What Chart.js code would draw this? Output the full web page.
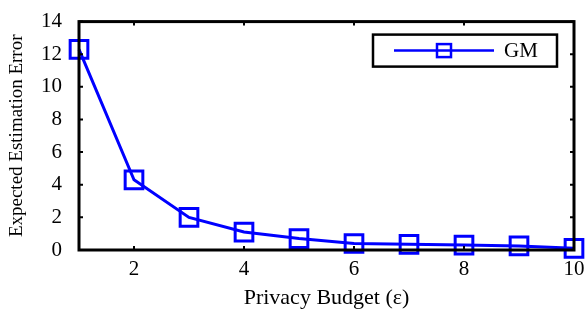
<!DOCTYPE html>
<html>
<head>
<meta charset="utf-8">
<script src="https://cdn.jsdelivr.net/npm/chart.js@4/dist/chart.umd.min.js"></script>
<style>
  html, body { margin:0; padding:0; background:#fff; }
  #wrap { width:587px; height:311px; position:relative; }
</style>
</head>
<body>
<div id="wrap"><canvas id="c"></canvas></div>
<script>
// data
const budgets = [1, 2, 3, 4, 5, 6, 7, 8, 9, 10];
const gmError = [12.3, 4.3, 2.0, 1.1, 0.7, 0.4, 0.35, 0.3, 0.25, 0.1];
const xTicks = [2, 4, 6, 8, 10];
const yTicks = [0, 2, 4, 6, 8, 10, 12, 14];
const seriesName = 'GM';

const serif = "'Liberation Serif', 'DejaVu Serif', serif";

// box around plot + inward ticks on all sides
const frame = {
  id: 'frame',
  afterDatasetsDraw(chart){
    const {ctx, chartArea:a, scales:{x, y}} = chart;
    ctx.save();
    ctx.strokeStyle = '#000';
    ctx.lineWidth = 3;
    ctx.strokeRect(a.left, a.top, a.right - a.left, a.bottom - a.top);
    ctx.lineWidth = 2;
    const t = 4;
    x.ticks.forEach(tk=>{
      const px = x.getPixelForValue(tk.value);
      ctx.beginPath();
      ctx.moveTo(px, a.bottom); ctx.lineTo(px, a.bottom - t);
      ctx.moveTo(px, a.top); ctx.lineTo(px, a.top + t);
      ctx.stroke();
    });
    y.ticks.forEach(tk=>{
      const py = y.getPixelForValue(tk.value);
      ctx.beginPath();
      ctx.moveTo(a.left, py); ctx.lineTo(a.left + t, py);
      ctx.moveTo(a.right, py); ctx.lineTo(a.right - t, py);
      ctx.stroke();
    });
    ctx.restore();
  }
};

// boxed legend in the top-right corner
const boxLegend = {
  id: 'boxLegend',
  afterDraw(chart){
    const {ctx, chartArea:a} = chart;
    const ds = chart.data.datasets[0];
    const w = 184, h = 32;
    const bx = a.right - 17 - w, by = a.top + 13;
    ctx.save();
    ctx.fillStyle = '#fff';
    ctx.fillRect(bx, by, w, h);
    ctx.strokeStyle = '#000';
    ctx.lineWidth = 2.5;
    ctx.strokeRect(bx, by, w, h);
    const ly = by + h/2;
    ctx.strokeStyle = ds.borderColor;
    ctx.lineWidth = 2.5;
    ctx.beginPath();
    ctx.moveTo(bx + 21, ly); ctx.lineTo(bx + 121, ly);
    ctx.stroke();
    ctx.strokeRect(bx + 64, ly - 6.5, 14, 13);
    ctx.fillStyle = '#000';
    ctx.font = "21px " + serif;
    ctx.textBaseline = 'middle';
    ctx.fillText(ds.label, bx + 131, ly + 1);
    ctx.restore();
  }
};

new Chart(document.getElementById('c'), {
  type: 'line',
  data: {
    labels: budgets,
    datasets: [{
      label: seriesName,
      data: budgets.map((b,i)=>({x:b, y:gmError[i]})),
      borderColor: '#0000ff',
      backgroundColor: 'transparent',
      borderWidth: 3,
      pointStyle: 'rect',
      pointRadius: 12.5,
      pointBorderWidth: 3,
      pointBorderColor: '#0000ff',
      pointBackgroundColor: 'transparent',
      tension: 0,
      clip: false
    }]
  },
  options: {
    responsive: true,
    maintainAspectRatio: false,
    animation: false,
    layout: { autoPadding: false, padding: { left: 2, right: 13, top: 6.5, bottom: 0 } },
    plugins: { legend: { display:false }, tooltip: { enabled:false } },
    scales: {
      x: {
        type: 'linear', min: 1, max: 10,
        afterBuildTicks: s => { s.ticks = xTicks.map(v=>({value:v})); },
        afterFit: s => { s.height = 61; },
        grid: { display:false },
        border: { display:false },
        ticks: { color:'#000', font:{ family:serif, size:21 }, padding:-1, maxRotation:0 },
        title: { display:true, text:'Privacy Budget (\u03b5)', color:'#000', font:{ family:serif, size:22 }, padding:{top:0, bottom:0} }
      },
      y: {
        min: 0, max: 14,
        afterBuildTicks: s => { s.ticks = yTicks.map(v=>({value:v})); },
        afterFit: s => { s.width = 77; },
        grid: { display:false },
        border: { display:false },
        ticks: { color:'#000', font:{ family:serif, size:21 }, padding:9 },
        title: { display:true, text:'Expected Estimation Error', color:'#000', font:{ family:serif, size:19 }, padding:{top:4, bottom:2} }
      }
    }
  },
  plugins: [frame, boxLegend]
});
</script>
</body>
</html>
